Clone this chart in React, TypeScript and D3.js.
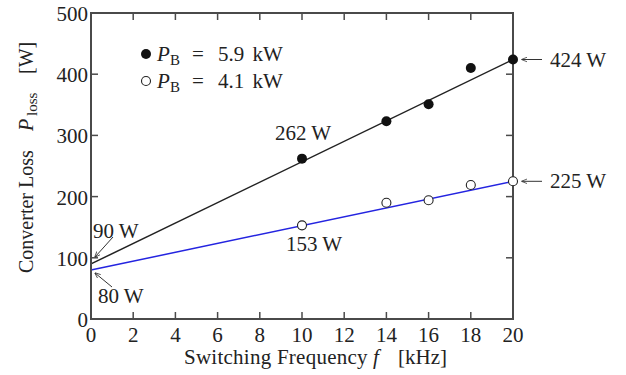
import React from "react";
import * as d3 from "d3";

const freqs = [10, 14, 16, 18, 20];
const lossHigh = [262, 323, 351, 410, 424];
const lossLow = [153, 190, 194, 219, 225];
const fitFreq = [0, 20];
const fitHigh = [90, 424];
const fitLow = [80, 225];
const xTicks = [0, 2, 4, 6, 8, 10, 12, 14, 16, 18, 20];
const yTicks = [0, 100, 200, 300, 400, 500];
const legendLabels = ["5.9 kW", "4.1 kW"];

const W = 626, H = 375;
const FONT = "'Liberation Serif', 'Times New Roman', serif";

export default function App() {
  const x = d3.scaleLinear().domain([0, 20]).range([91, 513]);
  const y = d3.scaleLinear().domain([0, 500]).range([319, 13]);
  const line = d3.line<[number, number]>().x(d => x(d[0])).y(d => y(d[1]));
  const fs = 21;
  const sub = 15;
  const tk = 7;
  const frame = "#4a4a4a";
  const blue = "#2424e0";
  const ink = "#222";

  return (
    <svg width={W} height={H} style={{ position: "absolute", left: 0, top: 0, background: "#fff" }} fontFamily={FONT}>
      <defs>
        <marker id="ah" viewBox="0 0 10 10" refX="9" refY="5" markerWidth="6" markerHeight="6" orient="auto-start-reverse">
          <path d="M0,1 L10,5 L0,9" fill="none" stroke="#333" strokeWidth="1.3" />
        </marker>
      </defs>
      {xTicks.map(t => (
        <g key={"xt" + t}>
          <line x1={x(t)} x2={x(t)} y1={y(0)} y2={y(0) - tk} stroke={frame} strokeWidth={1.5} />
          <line x1={x(t)} x2={x(t)} y1={y(500)} y2={y(500) + tk} stroke={frame} strokeWidth={1.5} />
          <text x={x(t)} y={342} fontSize={fs} textAnchor="middle" fill={ink}>{t}</text>
        </g>
      ))}
      {yTicks.map(t => (
        <g key={"yt" + t}>
          <line x1={x(0)} x2={x(0) + tk} y1={y(t)} y2={y(t)} stroke={frame} strokeWidth={1.5} />
          <line x1={x(20)} x2={x(20) - tk} y1={y(t)} y2={y(t)} stroke={frame} strokeWidth={1.5} />
          <text x={88} y={y(t) + 8} fontSize={fs} textAnchor="end" fill={ink}>{t}</text>
        </g>
      ))}
      <path d={line(fitFreq.map((f, i) => [f, fitHigh[i]]) as any) || ""} fill="none" stroke="#222" strokeWidth={1.5} />
      <path d={line(fitFreq.map((f, i) => [f, fitLow[i]]) as any) || ""} fill="none" stroke={blue} strokeWidth={1.5} />
      <rect x={x(0)} y={y(500)} width={x(20) - x(0)} height={y(0) - y(500)} fill="none" stroke={frame} strokeWidth={2} />
      {freqs.map((f, i) => (
        <circle key={"h" + f} cx={x(f)} cy={y(lossHigh[i])} r={5} fill="#111" />
      ))}
      {freqs.map((f, i) => (
        <circle key={"l" + f} cx={x(f)} cy={y(lossLow[i])} r={4.5} fill="#fff" stroke="#222" strokeWidth={1.1} />
      ))}
      {legendLabels.map((lab, i) => {
        const cy = 54 + i * 27;
        const by = cy + 7;
        return (
          <g key={"lg" + i}>
            {i === 0
              ? <circle cx={146} cy={cy} r={5} fill="#111" />
              : <circle cx={146} cy={cy} r={4.5} fill="#fff" stroke="#222" strokeWidth={1.1} />}
            <text x={157} y={by} fontSize={fs} fill={ink} fontStyle="italic">P</text>
            <text x={170} y={by + 4} fontSize={sub} fill={ink}>B</text>
            <text x={192} y={by} fontSize={fs} fill={ink}>=</text>
            <text x={218} y={by} fontSize={fs} fill={ink} wordSpacing={3}>{lab}</text>
          </g>
        );
      })}
      <text x={303} y={140} fontSize={fs} textAnchor="middle" fill={ink}>262 W</text>
      <text x={314} y={251} fontSize={fs} textAnchor="middle" fill={ink}>153 W</text>
      <text x={93} y={238} fontSize={fs} fill={ink}>90 W</text>
      <text x={98} y={303} fontSize={fs} fill={ink}>80 W</text>
      <line x1={113} y1={237} x2={95} y2={257} stroke="#333" strokeWidth={1} markerEnd="url(#ah)" />
      <line x1={112} y1={287} x2={95} y2={273} stroke="#333" strokeWidth={1} markerEnd="url(#ah)" />
      <line x1={542} y1={y(424)} x2={522} y2={y(424)} stroke="#333" strokeWidth={1} markerEnd="url(#ah)" />
      <text x={550} y={y(424) + 7} fontSize={fs} fill={ink}>424 W</text>
      <line x1={542} y1={y(225)} x2={522} y2={y(225)} stroke="#333" strokeWidth={1} markerEnd="url(#ah)" />
      <text x={550} y={y(225) + 7} fontSize={fs} fill={ink}>225 W</text>
      {/* x label */}
      <text x={184} y={364} fontSize={fs} fill={ink} letterSpacing={0.25}>Switching Frequency</text>
      <text x={373} y={364} fontSize={fs} fill={ink} fontStyle="italic">f</text>
      <text x={398} y={364} fontSize={fs} fill={ink}>[kHz]</text>
      {/* y label */}
      <g transform="translate(33,273) rotate(-90)">
        <text x={0} y={0} fontSize={20} fill={ink}>Converter Loss</text>
        <text x={142} y={0} fontSize={20} fill={ink} fontStyle="italic">P</text>
        <text x={157} y={4} fontSize={sub} fill={ink}>loss</text>
        <text x={199} y={0} fontSize={20} fill={ink}>[W]</text>
      </g>
    </svg>
  );
}
